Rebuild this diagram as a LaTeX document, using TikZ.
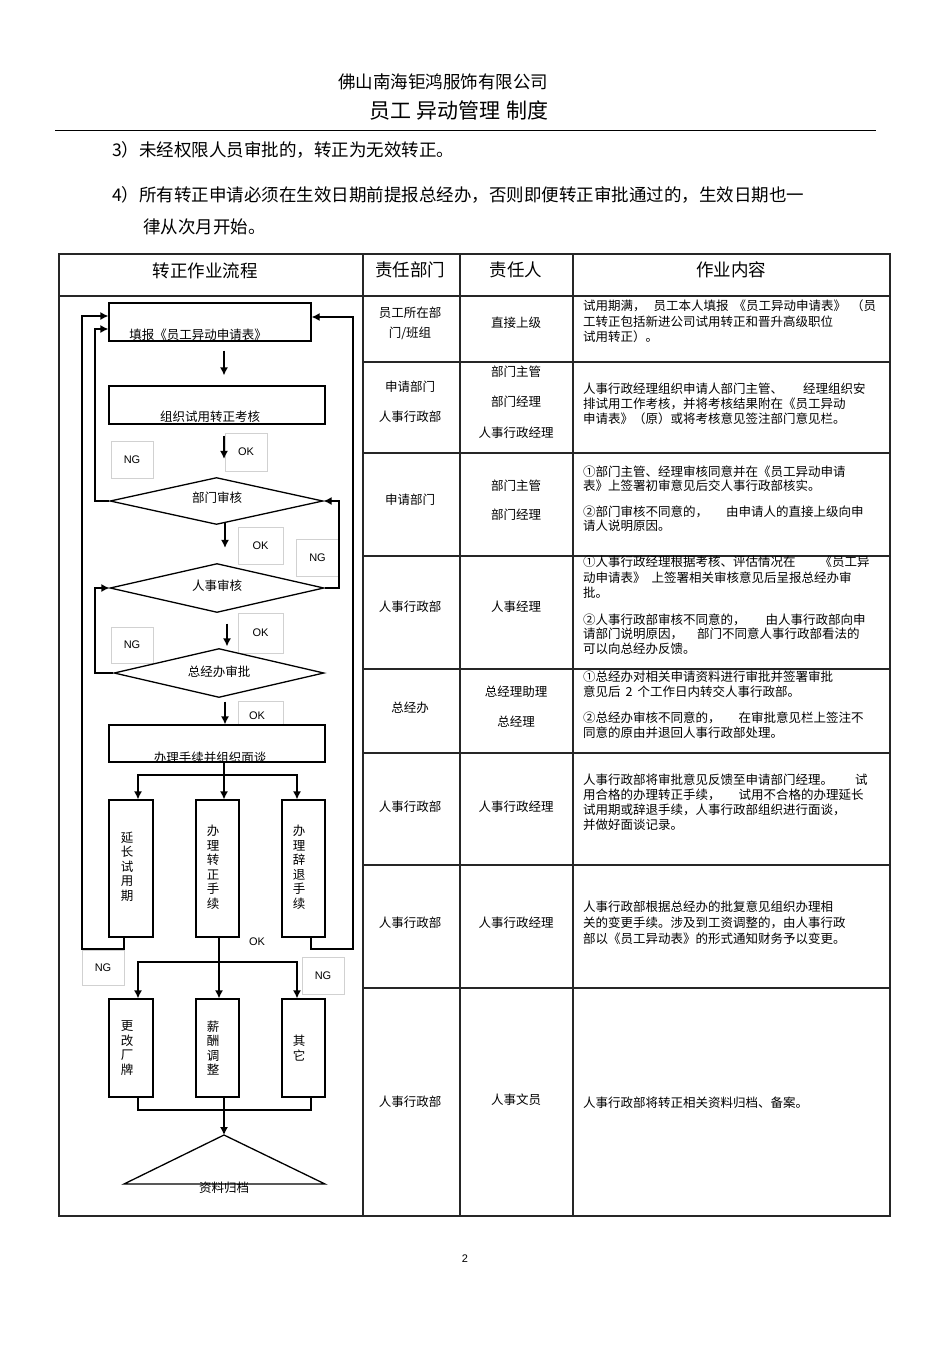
\documentclass[tikz,border=0pt]{standalone}
\usepackage{fontspec}
\setmainfont{Noto Sans CJK SC}
\newfontfamily\latfont{Liberation Sans}
\usetikzlibrary{arrows.meta,shapes.geometric}
\newcommand\fsz[1]{\fontsize{#1}{#1}\selectfont}
\newcommand\rowline[3]{\node[cell,anchor=west] (#1) at (583,#2) {#3};}
\begin{document}
\begin{tikzpicture}[x=1pt,y=-1pt,
  tl/.style={line width=1.3pt,draw=black!85},
  flowbox/.style={draw,line width=1.3pt,fill=white,inner sep=0pt},
  lab/.style={draw=black!18,line width=0.8pt,fill=white,inner sep=0pt,font=\latfont\fsz{11}},
  cell/.style={inner sep=0pt,font=\fsz{12.5},text height=11pt,text depth=1.5pt},
  vtxt/.style={inner sep=0pt,font=\fontsize{12.5}{14.5}\selectfont,align=center},
  hd/.style={inner sep=0pt,font=\fsz{17.5},text height=15.4pt,text depth=2.1pt},
  arr/.style={-{Latex[length=8pt,width=8pt]},line width=1.3pt},
  ln/.style={line width=1.3pt}]
\useasboundingbox (0,0) rectangle (950,1345);
\fill[white] (0,0) rectangle (950,1345);

% ---------- page header ----------
\node[hd] (t1) at (443,82) {佛山南海钜鸿服饰有限公司};
\node[inner sep=0pt,font=\fsz{21}] (t2) at (459,111) {员工\hspace{6pt}异动管理\hspace{6pt}制度};
\draw[line width=1pt] (55,130) -- (876,130);
\node[hd,anchor=west] (p3) at (112,150) {3）未经权限人员审批的，转正为无效转正。};
\node[hd,anchor=west] (p4) at (112,195) {4）所有转正申请必须在生效日期前提报总经办，否则即便转正审批通过的，生效日期也一};
\node[hd,anchor=west] (p4b) at (143,227) {律从次月开始。};
\node[inner sep=0pt,font=\latfont\fsz{11}] (pg) at (465,1259) {2};

% ---------- table grid ----------
\draw[tl] (59,254) rectangle (890,1216);
\draw[tl] (59,296) -- (890,296);
\draw[tl] (363,254) -- (363,1216);
\draw[tl] (460,254) -- (460,1216);
\draw[tl] (573,254) -- (573,1216);
\foreach \yy in {362,453,556,669,753,865,988} \draw[tl] (363,\yy) -- (890,\yy);

\node[hd] (h1) at (205,271) {转正作业流程};
\node[hd] (h2) at (410,270) {责任部门};
\node[hd] (h3) at (516,270) {责任人};
\node[hd] (h4) at (731,270) {作业内容};

% row 1
\node[cell] (d1a) at (410,313) {员工所在部};
\node[cell] (d1b) at (410,333) {门/班组};
\node[cell] (r1a) at (516,323) {直接上级};
\rowline{c1a}{306}{试用期满，\hspace{8pt}员工本人填报\hspace{5pt}《员工异动申请表》\hspace{5pt}（员}
\rowline{c1b}{322}{工转正包括新进公司试用转正和晋升高级职位}
\rowline{c1c}{337}{试用转正）。}
% row 2
\node[cell] (d2a) at (410,387) {申请部门};
\node[cell] (d2b) at (410,417) {人事行政部};
\node[cell] (r2a) at (516,372) {部门主管};
\node[cell] (r2b) at (516,402) {部门经理};
\node[cell] (r2c) at (516,433) {人事行政经理};
\rowline{c2a}{389}{人事行政经理组织申请人部门主管、\hspace{20pt}经理组织安}
\rowline{c2b}{404}{排试用工作考核，并将考核结果附在《员工异动}
\rowline{c2c}{419}{申请表》（原）或将考核意见签注部门意见栏。}
% row 3
\node[cell] (d3a) at (410,500) {申请部门};
\node[cell] (r3a) at (516,486) {部门主管};
\node[cell] (r3b) at (516,515) {部门经理};
\rowline{c3a}{472}{①部门主管、经理审核同意并在《员工异动申请}
\rowline{c3b}{486}{表》上签署初审意见后交人事行政部核实。}
\rowline{c3c}{512}{②部门审核不同意的，\hspace{18pt}由申请人的直接上级向申}
\rowline{c3d}{526}{请人说明原因。}
% row 4
\node[cell] (d4a) at (410,607) {人事行政部};
\node[cell] (r4a) at (516,607) {人事经理};
\rowline{c4a}{562}{①人事行政经理根据考核、评估情况在\hspace{24pt}《员工异}
\rowline{c4b}{578}{动申请表》\hspace{6pt}上签署相关审核意见后呈报总经办审}
\rowline{c4c}{593}{批。}
\rowline{c4d}{620}{②人事行政部审核不同意的，\hspace{20pt}由人事行政部向申}
\rowline{c4e}{634}{请部门说明原因，\hspace{14pt}部门不同意人事行政部看法的}
\rowline{c4f}{649}{可以向总经办反馈。}
% row 5
\node[cell] (d5a) at (410,708) {总经办};
\node[cell] (r5a) at (516,692) {总经理助理};
\node[cell] (r5b) at (516,722) {总经理};
\rowline{c5a}{677}{①总经办对相关申请资料进行审批并签署审批}
\rowline{c5b}{692}{意见后\hspace{5pt}2\hspace{5pt}个工作日内转交人事行政部。}
\rowline{c5c}{718}{②总经办审核不同意的，\hspace{18pt}在审批意见栏上签注不}
\rowline{c5d}{733}{同意的原由并退回人事行政部处理。}
% row 6
\node[cell] (d6a) at (410,807) {人事行政部};
\node[cell] (r6a) at (516,807) {人事行政经理};
\rowline{c6a}{780}{人事行政部将审批意见反馈至申请部门经理。\hspace{22pt}试}
\rowline{c6b}{795}{用合格的办理转正手续，\hspace{18pt}试用不合格的办理延长}
\rowline{c6c}{810}{试用期或辞退手续，人事行政部组织进行面谈，}
\rowline{c6d}{825}{并做好面谈记录。}
% row 7
\node[cell] (d7a) at (410,923) {人事行政部};
\node[cell] (r7a) at (516,923) {人事行政经理};
\rowline{c7a}{907}{人事行政部根据总经办的批复意见组织办理相}
\rowline{c7b}{923}{关的变更手续。涉及到工资调整的，由人事行政}
\rowline{c7c}{939}{部以《员工异动表》的形式通知财务予以变更。}
% row 8
\node[cell] (d8a) at (410,1102) {人事行政部};
\node[cell] (r8a) at (516,1100) {人事文员};
\rowline{c8a}{1103}{人事行政部将转正相关资料归档、备案。}

% ---------- flowchart: labels ----------
\node[lab,minimum width=42pt,minimum height=38pt] (ok1) at (246,452) {OK};
\node[lab,minimum width=42pt,minimum height=37pt] (ng1) at (132,459.5) {NG};
\node[lab,minimum width=45pt,minimum height=37pt] (ok2) at (260.5,545.5) {OK};
\node[lab,minimum width=43pt,minimum height=37pt] (ng2) at (317.5,557.5) {NG};
\node[lab,minimum width=45pt,minimum height=40pt] (ok3) at (260.5,633) {OK};
\node[lab,minimum width=42pt,minimum height=36pt] (ng3) at (132,645) {NG};
\node[lab,minimum width=45pt,minimum height=37pt] (ok4) at (260.5,719.5) {};
\node[inner sep=0pt,font=\latfont\fsz{11}] (ok4t) at (257,716) {OK};
\node[inner sep=0pt,font=\latfont\fsz{11}] (ok5) at (257,942) {OK};
\node[lab,minimum width=42pt,minimum height=35pt] (ng4) at (103,967.5) {NG};
\node[lab,minimum width=42pt,minimum height=37pt] (ng5) at (323,975.5) {NG};

% ---------- flowchart: shapes ----------
\node[flowbox,minimum width=202pt,minimum height=38pt] (b1) at (210,322) {};
\node[flowbox,minimum width=216pt,minimum height=38pt] (b2) at (217,405) {};
\node[flowbox,diamond,minimum width=213pt,minimum height=47pt] (dd1) at (216.5,501) {};
\node[flowbox,diamond,minimum width=214pt,minimum height=49pt] (dd2) at (217,588) {};
\node[flowbox,diamond,minimum width=210pt,minimum height=49pt] (dd3) at (219,673) {};
\node[flowbox,minimum width=216pt,minimum height=37pt] (b3) at (217,743.5) {};
\node[flowbox,minimum width=44pt,minimum height=137pt] (v1) at (131,868.5) {};
\node[flowbox,minimum width=43pt,minimum height=137pt] (v2) at (217.5,868.5) {};
\node[flowbox,minimum width=43pt,minimum height=137pt] (v3) at (303.5,868.5) {};
\node[flowbox,minimum width=44pt,minimum height=98pt] (w1) at (131,1048) {};
\node[flowbox,minimum width=43pt,minimum height=98pt] (w2) at (217.5,1048) {};
\node[flowbox,minimum width=43pt,minimum height=98pt] (w3) at (303.5,1048) {};
\coordinate (tri) at (224,1135);
\coordinate (triL) at (124,1184);
\coordinate (triR) at (325,1184);
\draw[ln,fill=white] (tri) -- (triL) -- (triR) -- cycle;

% ---------- flowchart: connectors ----------
\draw[arr,shorten <=9pt,shorten >=10pt] ([xshift=14pt]b1.south) -- ([xshift=7pt]b2.north);
\draw[arr,shorten <=11pt,shorten >=18pt] ([xshift=7pt]b2.south) -- ([xshift=7.5pt]dd1.north);
\draw[arr,shorten >=15pt] ([xshift=8.5pt,yshift=2pt]dd1.south) -- ([xshift=8pt]dd2.north);
\draw[arr,shorten <=10.5pt,shorten >=1.5pt] ([xshift=10pt]dd2.south) -- ([xshift=8pt]dd3.north);
\draw[arr,shorten <=3.5pt] ([xshift=6pt]dd3.south) -- ([xshift=8pt]b3.north);

\coordinate (b1L1) at ([yshift=6pt]b1.west);
\coordinate (b1L2) at ([yshift=-7pt]b1.west);
\coordinate (b1R) at ([yshift=5pt]b1.east);
\coordinate (cL1) at (82,949);
\coordinate (cR5) at (353,949);
\coordinate (xL2) at (95,0);
\coordinate (xL4) at (339,0);

\draw[arr] ([xshift=-7pt]v1.south) |- (cL1) |- (b1L1);
\draw[arr] (dd1.west) -- (dd1.west -| xL2) |- (b1L2);
\draw[arr] (dd3.west) -- (dd3.west -| xL2) |- (dd2.west);
\draw[arr] (dd2.east) -- (dd2.east -| xL4) |- (dd1.east);
\draw[arr] ([xshift=7.5pt]v3.south) |- (cR5) |- (b1R);

\coordinate (j1) at (224,775);
\draw[ln] ([xshift=7pt]b3.south) -- (j1);
\draw[arr] (j1) -| ([xshift=7pt]v1.north);
\draw[arr] (j1) -| ([xshift=-6.5pt]v3.north);
\draw[arr] (j1) -- (j1 |- v2.north);

\coordinate (j2) at (219,962);
\draw[arr] ([xshift=1.5pt]v2.south) -- (j2 |- w2.north);
\draw[arr] (j2) -| ([xshift=7pt]w1.north);
\draw[arr] (j2) -| ([xshift=-6.5pt]w3.north);

\coordinate (j3) at (224,1110);
\draw[ln] ([xshift=7pt]w1.south) |- (j3);
\draw[ln] ([xshift=7.5pt]w3.south) |- (j3);
\draw[arr] ([xshift=6.5pt]w2.south) -- (tri);

% ---------- flowchart: texts ----------
\node[cell] (b1t) at (198,335) {填报《员工异动申请表》};
\node[cell] (b2t) at (210,417) {组织试用转正考核};
\node[cell] (d1t) at (217,498) {部门审核};
\node[cell] (d2t) at (217,586) {人事审核};
\node[cell] (d3t) at (219,672) {总经办审批};
\node[cell] (b3t) at (210,758) {办理手续并组织面谈};
\node[vtxt] (v1t) at (127,866.5) {延\\长\\试\\用\\期};
\node[vtxt] (v2t) at (213,867.5) {办\\理\\转\\正\\手\\续};
\node[vtxt] (v3t) at (299,867.5) {办\\理\\辞\\退\\手\\续};
\node[vtxt] (w1t) at (127,1048) {更\\改\\厂\\牌};
\node[vtxt] (w2t) at (213,1048) {薪\\酬\\调\\整};
\node[vtxt] (w3t) at (299,1048) {其\\它};
\node[cell] (trit) at (224,1188) {资料归档};
\end{tikzpicture}
\end{document}
